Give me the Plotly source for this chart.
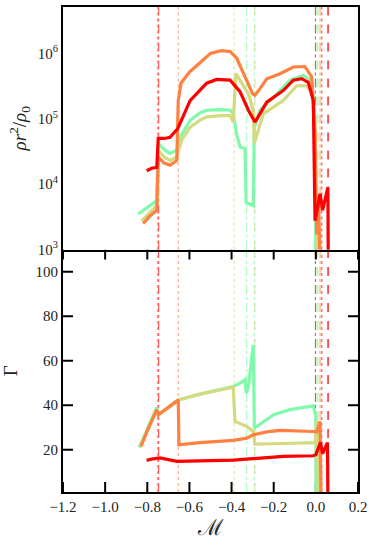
import math

import plotly.graph_objects as go
from plotly.subplots import make_subplots

# density profile rho r^2 / rho_0 against M (top panel)
green_rho_x = [-0.843, -0.80, -0.755, -0.748, -0.72, -0.692, -0.66, -0.645, -0.597, -0.55, -0.518,
               -0.45, -0.407, -0.392, -0.375, -0.36, -0.336, -0.331, -0.297, -0.292, -0.265,
               -0.202, -0.123, -0.06, -0.02, -0.004, 0.0]
green_rho_y = [3.5e3, 4.4e3, 5.6e3, 4.2e4, 3.4e4, 2.95e4, 3.3e4, 5.2e4, 9.5e4, 1.23e5, 1.35e5,
               1.38e5, 1.35e5, 1.2e5, 5.6e4, 3.7e4, 3.5e4, 5.2e3, 4.7e3, 7.4e4, 1.35e5,
               2.1e5, 3.9e5, 4.6e5, 3.9e5, 1.07e5, 600]

yellow_rho_x = [-0.827, -0.79, -0.755, -0.748, -0.72, -0.692, -0.66, -0.637, -0.597, -0.55, -0.518,
                -0.45, -0.407, -0.392, -0.38, -0.36, -0.32, -0.297, -0.292, -0.249, -0.155,
                -0.091, -0.044, -0.02, -0.004, 0.006]
yellow_rho_y = [2.75e3, 3.55e3, 4.7e3, 3.3e4, 2.6e4, 2.3e4, 2.6e4, 4.7e4, 7.4e4, 9.5e4, 1.07e5,
                1.12e5, 1.12e5, 8.9e4, 4.9e5, 3.9e5, 2.4e5, 1.35e5, 4.2e4, 1.2e5, 1.9e5,
                3.2e5, 3.2e5, 2.6e5, 9.5e4, 600]

orange_rho_x = [-0.819, -0.79, -0.755, -0.748, -0.72, -0.692, -0.66, -0.653, -0.64, -0.60, -0.55,
                -0.50, -0.45, -0.407, -0.376, -0.35, -0.328, -0.30, -0.289, -0.275, -0.233,
                -0.17, -0.107, -0.052, -0.02, -0.004, 0.004, 0.012, 0.02]
orange_rho_y = [2.5e3, 3.2e3, 4.0e3, 2.6e4, 2.1e4, 1.95e4, 2.3e4, 1.9e5, 3.5e5, 5.2e5, 7.2e5,
                1.0e6, 1.1e6, 1.07e6, 8.5e5, 5.6e5, 3.7e5, 2.4e5, 2.3e5, 2.6e5, 4.1e5,
                4.9e5, 6.2e5, 6.3e5, 4.4e5, 5.9e4, 1.7e3, 6.3e3, 600]

red_rho_x = [-0.803, -0.779, -0.755, -0.748, -0.72, -0.692, -0.655, -0.597, -0.518, -0.471, -0.407,
             -0.36, -0.32, -0.289, -0.265, -0.233, -0.155, -0.107, -0.067, -0.036, -0.012,
             -0.004, 0.02, 0.032, 0.057, 0.059]
red_rho_y = [1.6e4, 1.75e4, 1.8e4, 5.0e4, 5.0e4, 5.2e4, 7.1e4, 1.9e5, 3.5e5, 4.0e5, 3.9e5,
             2.6e5, 1.35e5, 8.9e4, 1.2e5, 1.8e5, 2.7e5, 3.9e5, 4.1e5, 3.6e5, 1.9e5,
             2.75e3, 7.1e3, 4.0e3, 8.9e3, 600]

# Gamma against M (bottom panel)
green_gam_x = [-0.838, -0.80, -0.755, -0.748, -0.653, -0.55, -0.392, -0.36, -0.336, -0.331, -0.32,
               -0.297, -0.292, -0.2, -0.123, -0.012, 0.0, 0.001]
green_gam_y = [21.0, 29.0, 39.0, 35.7, 42.4, 45.0, 48.4, 49.9, 51.4, 45.4, 48.4,
               67.1, 29.7, 35.7, 38.0, 39.7, 35.0, 0]

yellow_gam_x = [-0.835, -0.80, -0.755, -0.748, -0.653, -0.645, -0.55, -0.392, -0.384, -0.328,
                -0.297, -0.289, -0.15, -0.004, 0.006, 0.012]
yellow_gam_y = [21.2, 28.5, 38.0, 35.7, 42.4, 42.6, 45.0, 48.1, 32.7, 30.5,
                28.2, 22.5, 22.8, 23.2, 33.0, 0]

orange_gam_x = [-0.83, -0.80, -0.755, -0.748, -0.653, -0.650, -0.55, -0.392, -0.328, -0.297,
                -0.233, -0.17, -0.012, 0.004, 0.02, 0.024]
orange_gam_y = [21.5, 28.5, 38.0, 35.7, 42.4, 22.2, 23.2, 24.2, 25.2, 26.7,
                28.0, 28.7, 28.2, 28.0, 32.7, 0]

red_gam_x = [-0.803, -0.78, -0.74, -0.70, -0.66, -0.392, -0.297, -0.155, -0.012, 0.0, 0.022,
             0.032, 0.055, 0.057]
red_gam_y = [15.2, 15.8, 16.3, 15.7, 14.8, 15.3, 16.0, 17.0, 17.3, 17.8, 23.3,
             18.2, 23.2, 0]

# characteristic mass coordinates (vertical markers)
green_marks = [-0.328, -0.292, 0.005]
yellow_marks = [-0.388, -0.289, 0.010]
orange_marks = [-0.752, -0.653, 0.020]
red_marks = [-0.746, -0.002, 0.028, 0.058]

rho_ticks = [1e3, 1e4, 1e5, 1e6]
rho_ticktext = ['10<sup>3</sup>', '10<sup>4</sup>', '10<sup>5</sup>', '10<sup>6</sup>']
gam_ticks = [20, 40, 60, 80, 100]
m_ticks = [-1.2, -1.0, -0.8, -0.6, -0.4, -0.2, 0.0, 0.2]

GREEN = '#80FAAA'
YELLOW = '#D4DA80'
ORANGE = '#FF8040'
RED = '#FF0000'

M_RANGE = [-1.2, 0.2]
RHO_RANGE = [3, 6.71]
GAM_RANGE = [1, 110]

W, H = 374, 547
MARGIN = dict(l=63, r=16, t=7, b=55)
PLOT_W = W - MARGIN['l'] - MARGIN['r']
PANEL_H = (H - MARGIN['t'] - MARGIN['b']) / 2

fig = make_subplots(rows=2, cols=1, shared_xaxes=True, vertical_spacing=0)

series = [
    (green_rho_x, green_rho_y, green_gam_x, green_gam_y, GREEN),
    (yellow_rho_x, yellow_rho_y, yellow_gam_x, yellow_gam_y, YELLOW),
    (orange_rho_x, orange_rho_y, orange_gam_x, orange_gam_y, ORANGE),
    (red_rho_x, red_rho_y, red_gam_x, red_gam_y, RED),
]

for rx, ry, gx, gy, col in series:
    fig.add_trace(go.Scatter(x=rx, y=ry, mode='lines', line=dict(color=col, width=3.2),
                             showlegend=False), row=1, col=1)
    fig.add_trace(go.Scatter(x=gx, y=gy, mode='lines', line=dict(color=col, width=3.2),
                             showlegend=False), row=2, col=1)

marks = [
    (green_marks, GREEN, ['dashdot', 'dot', 'dash']),
    (yellow_marks, YELLOW, ['dot', 'dash', 'dash']),
    (orange_marks, ORANGE, ['dot', 'dot', 'dashdot']),
    (red_marks, RED, ['dashdot', 'dashdot', 'dot', 'dash']),
]

# vertical markers drawn in both panels, below the curves
for xs, col, styles in marks:
    for xv, st in zip(xs, styles):
        w = 1.8 if (st == 'dash' and col == RED) else 1.1
        for yr in ['y domain', 'y2 domain']:
            fig.add_shape(type='line', xref='x', yref=yr, x0=xv, x1=xv, y0=0, y1=1,
                          line=dict(color=col, width=w, dash=st), opacity=0.7,
                          layer='below')

# axis frame and labels
frame = dict(showline=True, linecolor='black', linewidth=2, ticks='',
             showgrid=False, zeroline=False)
fig.update_xaxes(**frame, range=M_RANGE, tickvals=m_ticks, tickformat='.1f')
fig.update_xaxes(showticklabels=False, mirror=True, row=1, col=1)
fig.update_xaxes(title=dict(text='ℳ', font=dict(size=22), standoff=2), row=2, col=1)
fig.update_yaxes(**frame, mirror=True, type='log', range=RHO_RANGE, tickvals=rho_ticks,
                 ticktext=rho_ticktext,
                 title=dict(text='<i>ρr</i><sup>2</sup>/<i>ρ</i><sub>0</sub>',
                            font=dict(size=19), standoff=6),
                 row=1, col=1)
fig.update_yaxes(**frame, mirror=True, range=GAM_RANGE, tickvals=gam_ticks,
                 title=dict(text='Γ', font=dict(size=19), standoff=14), row=2, col=1)

# inward-pointing ticks on every edge (pixel lengths turned into axis units)
MAJOR = 10
MINOR = 5
tick_line = dict(color='black', width=2)
minor_line = dict(color='black', width=1.3)

x_unit = (M_RANGE[1] - M_RANGE[0]) / PLOT_W
panels = [('y', RHO_RANGE, (RHO_RANGE[1] - RHO_RANGE[0]) / PANEL_H),
          ('y2', GAM_RANGE, (GAM_RANGE[1] - GAM_RANGE[0]) / PANEL_H)]

for yref, rng, y_unit in panels:
    for xv in m_ticks:
        for base, sgn in [(rng[0], 1), (rng[1], -1)]:
            fig.add_shape(type='line', xref='x', yref=yref, x0=xv, x1=xv,
                          y0=base, y1=base + sgn * MAJOR * y_unit,
                          line=tick_line, layer='below')


def y_ticks(yref, values, length, line):
    for yv in values:
        for base, sgn in [(M_RANGE[0], 1), (M_RANGE[1], -1)]:
            fig.add_shape(type='line', xref='x', yref=yref, y0=yv, y1=yv,
                          x0=base, x1=base + sgn * length * x_unit,
                          line=line, layer='below')


# shapes on a log axis take log10 coordinates
y_ticks('y', [math.log10(v) for v in rho_ticks], MAJOR, tick_line)
minor_vals = [math.log10(m) + e for e in range(3, 7) for m in range(2, 10)
              if math.log10(m) + e < RHO_RANGE[1]]
y_ticks('y', minor_vals, MINOR, minor_line)
y_ticks('y2', gam_ticks, MAJOR, tick_line)

fig.update_layout(
    width=W, height=H,
    margin=dict(**MARGIN, autoexpand=False),
    plot_bgcolor='rgba(0,0,0,0)', paper_bgcolor='white',
    font=dict(family='Liberation Serif, DejaVu Serif, serif', size=15, color='#222222'),
)

fig.write_html('out.html', config={'displayModeBar': False},
               post_script="document.body.style.margin='0px';")
